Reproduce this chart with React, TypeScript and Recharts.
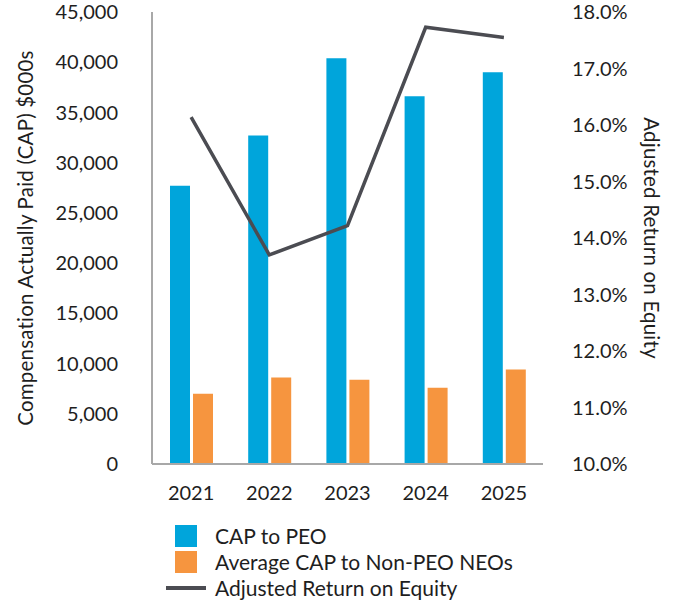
import React from "react";
import {
  ComposedChart,
  Bar,
  Line,
  XAxis,
  YAxis,
  Label,
} from "recharts";

const years = ["2021", "2022", "2023", "2024", "2025"];
const capToPeo = [27700, 32700, 40400, 36600, 39000];
const capToNeos = [7000, 8600, 8400, 7600, 9400];
const adjustedRoe = [16.14, 13.7, 14.22, 17.73, 17.55];

const leftTicks = [0, 5000, 10000, 15000, 20000, 25000, 30000, 35000, 40000, 45000];
const rightTicks = [10, 11, 12, 13, 14, 15, 16, 17, 18];

const seriesNames = {
  peo: "CAP to PEO",
  neo: "Average CAP to Non-PEO NEOs",
  roe: "Adjusted Return on Equity",
};

const BLUE = "#00a5db";
const ORANGE = "#f6953f";
const DARK = "#4b4c52";
const AXIS = "#a8a8a8";
const FONT = "Lato, 'Open Sans', sans-serif";

const data = years.map((year, i) => ({
  year,
  peo: capToPeo[i],
  neo: capToNeos[i],
  roe: adjustedRoe[i],
}));

const tickStyle = { fill: "#1e1e1e", fontSize: 20, fontFamily: FONT };

function AxisTitle({ viewBox, value, dx, angle }: any) {
  const x = viewBox.x + dx;
  const y = viewBox.y + viewBox.height / 2;
  return (
    <text
      x={x}
      y={y}
      transform={`rotate(${angle}, ${x}, ${y})`}
      textAnchor="middle"
      dominantBaseline="central"
      fill="#1e1e1e"
      fontSize={20.5}
      fontFamily={FONT}
      letterSpacing={0.2}
    >
      {value}
    </text>
  );
}

function ChartLegend() {
  const row = {
    display: "flex",
    alignItems: "center",
    height: 26,
  } as const;
  const text = { fontSize: 21, color: "#1e1e1e", marginLeft: 9 };
  return (
    <div
      style={{
        position: "absolute",
        left: 166,
        top: 523,
        fontFamily: FONT,
        lineHeight: "26px",
      }}
    >
      <div style={row}>
        <div style={{ width: 40, display: "flex", justifyContent: "flex-end" }}>
          <div style={{ width: 22, height: 22, background: BLUE, marginRight: 9 }} />
        </div>
        <span style={text}>{seriesNames.peo}</span>
      </div>
      <div style={row}>
        <div style={{ width: 40, display: "flex", justifyContent: "flex-end" }}>
          <div style={{ width: 22, height: 22, background: ORANGE, marginRight: 9 }} />
        </div>
        <span style={text}>{seriesNames.neo}</span>
      </div>
      <div style={row}>
        <div style={{ width: 40, height: 4, background: DARK }} />
        <span style={text}>{seriesNames.roe}</span>
      </div>
    </div>
  );
}

export default function App() {
  return (
    <div
      style={{
        position: "absolute",
        left: 0,
        top: 0,
        width: 680,
        height: 600,
        background: "#fff",
      }}
    >
      <ComposedChart
        width={680}
        height={520}
        data={data}
        margin={{ top: 12, right: 0, bottom: 0, left: 0 }}
        barSize={20}
        barGap={3}
      >
        <XAxis
          dataKey="year"
          height={56}
          tick={tickStyle}
          tickLine={false}
          tickSize={0}
          tickMargin={22}
          axisLine={{ stroke: AXIS, strokeWidth: 2 }}
        />
        <YAxis
          yAxisId="left"
          width={152}
          domain={[0, 45000]}
          ticks={leftTicks}
          interval={0}
          tickFormatter={(v: number) => v.toLocaleString("en-US")}
          tick={tickStyle}
          tickLine={false}
          tickSize={0}
          tickMargin={34}
          axisLine={{ stroke: AXIS, strokeWidth: 2 }}
        >
          <Label
            content={(props: any) => (
              <AxisTitle
                viewBox={props.viewBox}
                value="Compensation Actually Paid (CAP) $000s"
                dx={25}
                angle={-90}
              />
            )}
          />
        </YAxis>
        <YAxis
          yAxisId="right"
          orientation="right"
          width={137}
          domain={[10, 18]}
          ticks={rightTicks}
          interval={0}
          tickFormatter={(v: number) => `${v.toFixed(1)}%`}
          tick={tickStyle}
          tickLine={false}
          tickSize={0}
          tickMargin={29}
          axisLine={false}
        >
          <Label
            content={(props: any) => (
              <AxisTitle
                viewBox={props.viewBox}
                value="Adjusted Return on Equity"
                dx={109}
                angle={90}
              />
            )}
          />
        </YAxis>
        <Bar
          yAxisId="left"
          dataKey="peo"
          name={seriesNames.peo}
          fill={BLUE}
          isAnimationActive={false}
        />
        <Bar
          yAxisId="left"
          dataKey="neo"
          name={seriesNames.neo}
          fill={ORANGE}
          isAnimationActive={false}
        />
        <Line
          yAxisId="right"
          dataKey="roe"
          name={seriesNames.roe}
          type="linear"
          stroke={DARK}
          strokeWidth={3.5}
          dot={false}
          activeDot={false}
          isAnimationActive={false}
        />
      </ComposedChart>
      <ChartLegend />
    </div>
  );
}
